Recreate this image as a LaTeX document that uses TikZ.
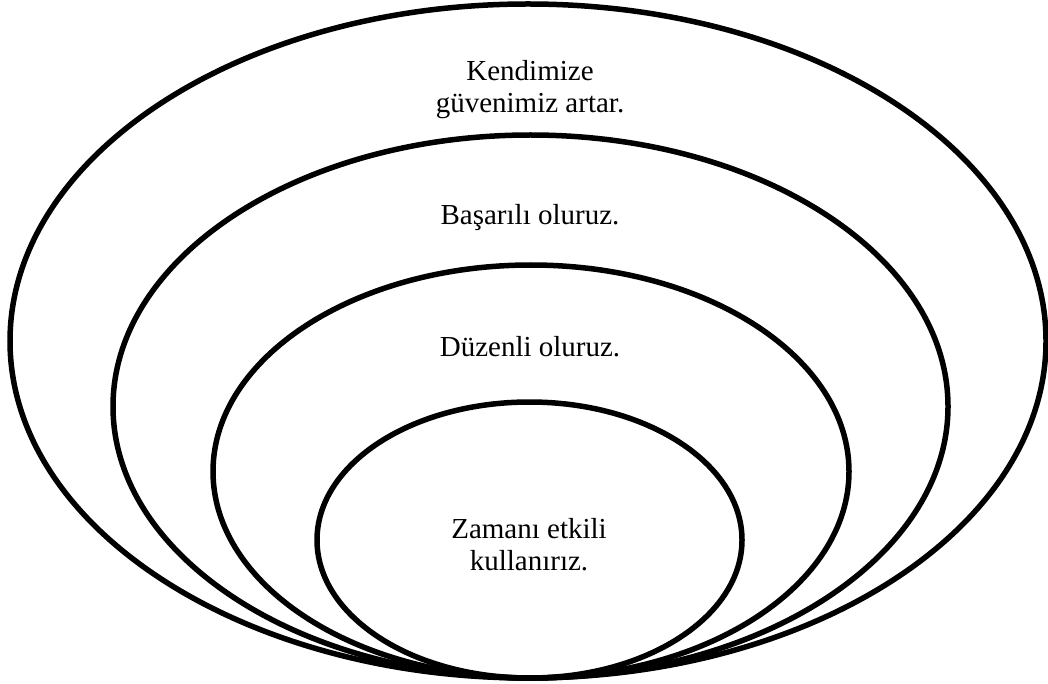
\documentclass[tikz,border=0pt]{standalone}
\usepackage{fontspec}
\setmainfont{Liberation Serif}
\usetikzlibrary{shapes.geometric}
\usetikzlibrary{calc}

\begin{document}
\begin{tikzpicture}[x = 1pt, y = -1pt]
		\useasboundingbox (0, 0) rectangle (1048, 684);

		\begin{scope}[every node/.style={ellipse, draw, line width = 5.5pt, inner sep = 0pt}]
		\node (r1) [minimum width = 1036pt, minimum height = 674pt] at (528, 341) {};
		\node (r2) [minimum width = 835pt, minimum height = 543pt] at (530.5, 406.5) {};
		\node (r3) [minimum width = 636pt, minimum height = 413pt] at (531, 471.5) {};
		\node (r4) [minimum width = 425pt, minimum height = 276pt] at (529.5, 540) {};
		\end{scope}

		\begin{scope}[every node/.style={align = center, font = \fontsize{29}{32}\selectfont}]
		\node (t1) at (530, 90) {Kendimize\\güvenimiz artar.};
		\node (t2) at (530, 218) {Başarılı oluruz.};
		\node (t3) at (530, 347) {Düzenli oluruz.};
		\node (t4) at (529, 545) {Zamanı etkili\\kullanırız.};
		\end{scope}

		\end{tikzpicture}
\end{document}
